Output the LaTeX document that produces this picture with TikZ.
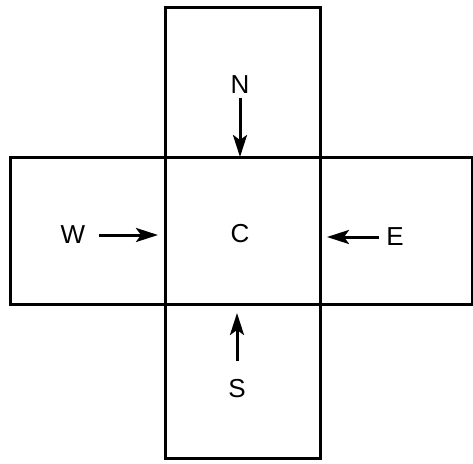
\documentclass[tikz,border=0pt]{standalone}
\usepackage{fontspec}
\setsansfont{Liberation Sans}
\usepackage{tikz}
\usetikzlibrary{arrows.meta}

\begin{document}
\begin{tikzpicture}[x=1pt, y=-1pt, >={Stealth[length=22pt,width=14pt,inset=5pt]}, line width=3pt,
  lbl/.style={font=\fontsize{26}{30}\selectfont\sffamily, inner sep=3pt}]
  \useasboundingbox (0,0) rectangle (473,463);
  % cruz
  \draw (165,7) rectangle (320,458);
  \draw (10,157) rectangle (472,304);
  \coordinate (Nin) at (240,157);
  \coordinate (Win) at (158,235);
  \coordinate (Ein) at (327,237);
  \coordinate (Sin) at (237,313);
  \node[lbl] (C) at (240,234){C};
  \node[lbl] (N) at (240,85){N};  \draw[->] (N)--(Nin);
  \node[lbl] (W) at (73,235){W};  \draw[->, shorten <=9pt] (W)--(Win);
  \node[lbl] (E) at (395,237){E}; \draw[->, shorten <=3pt] (E)--(Ein);
  \node[lbl] (S) at (237,389){S}; \draw[->, shorten <=14pt] (S)--(Sin);
\end{tikzpicture}
\end{document}
